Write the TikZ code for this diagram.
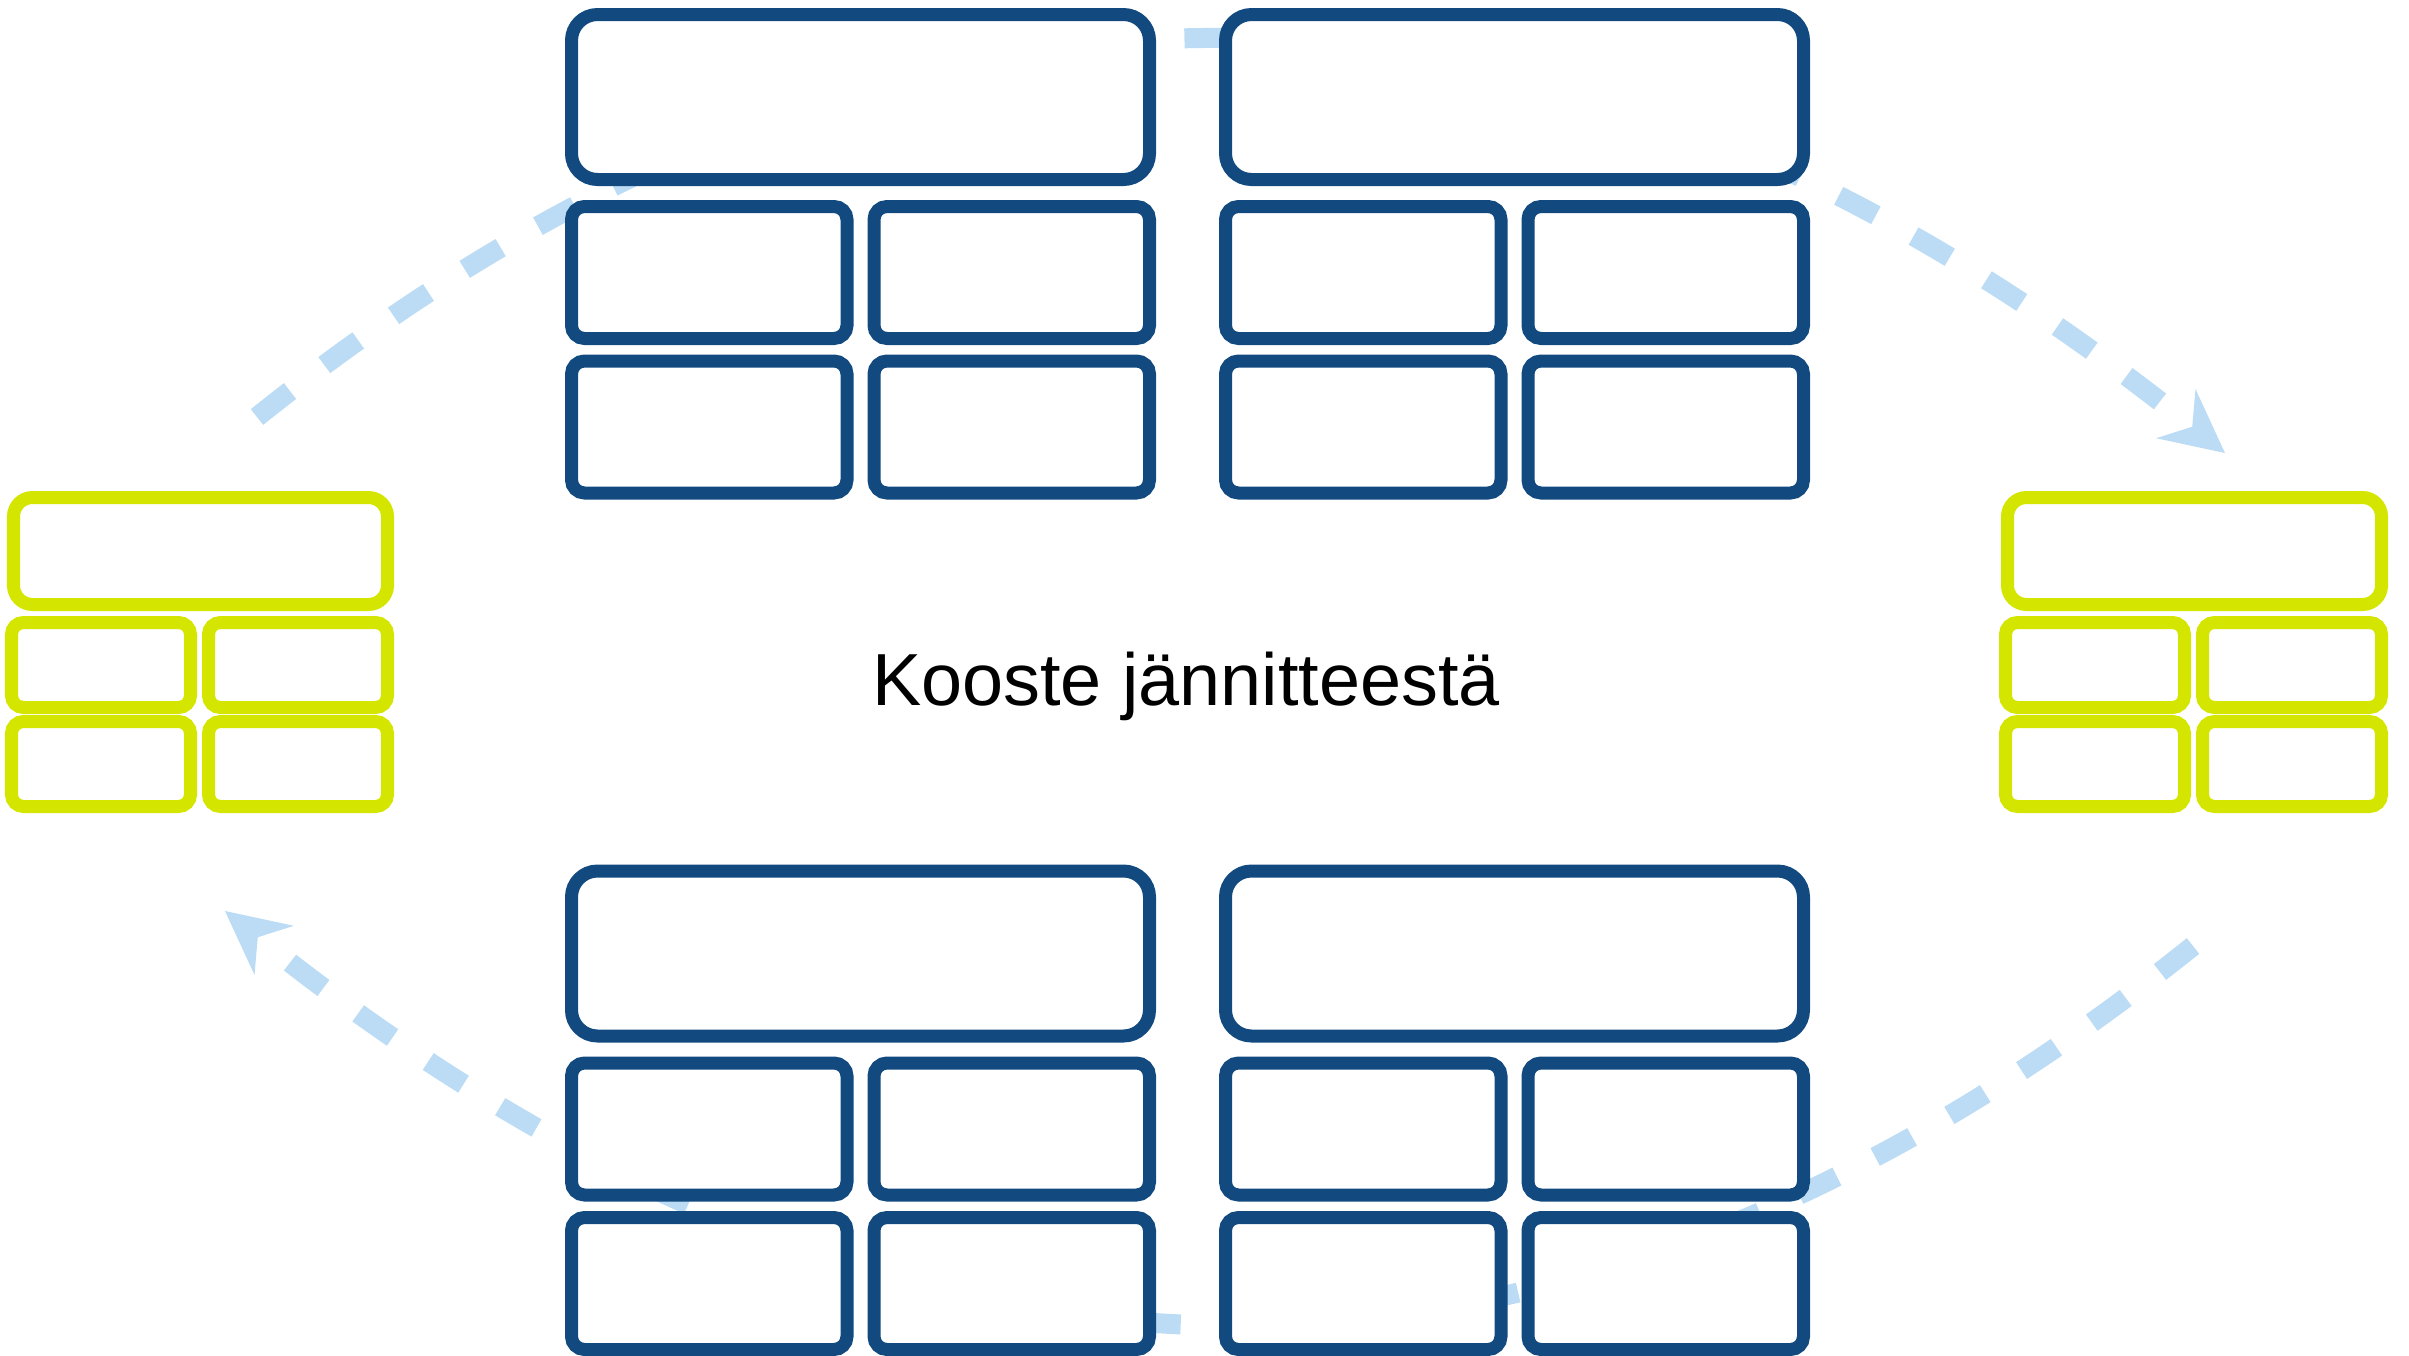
\documentclass[tikz,border=0pt]{standalone}
\usepackage{fontspec}
\setmainfont{Liberation Sans}
\usepackage{tikz}
\usetikzlibrary{arrows.meta,positioning}
\definecolor{navyBlue}{RGB}{18,74,128}
\definecolor{limeGreen}{RGB}{212,230,0}
\definecolor{skyBlue}{RGB}{187,220,244}

\tikzset{
  panel/.style={draw=navyBlue, line width=0.13cm, fill=white,
    inner sep=0pt, outer sep=0pt},
  bigpanel/.style={panel, rounded corners=0.26cm,
    minimum width=5.78cm, minimum height=1.65cm},
  smallpanel/.style={panel, rounded corners=0.13cm,
    minimum width=2.755cm, minimum height=1.32cm},
  tile/.style={draw=limeGreen, line width=0.13cm, fill=white,
    inner sep=0pt, outer sep=0pt},
  bigtile/.style={tile, rounded corners=0.19cm,
    minimum width=3.74cm, minimum height=1.07cm},
  smalltile/.style={tile, rounded corners=0.12cm,
    minimum width=1.79cm, minimum height=0.85cm},
  flow/.style={draw=skyBlue, line width=0.2cm,
    dash pattern=on 0.42cm off 0.43cm,
    -{Stealth[length=0.63cm, width=0.63cm, inset=0.21cm, line width=0pt]}}
}

\begin{document}
\begin{tikzpicture}[x=1cm, y=-1cm]
  \useasboundingbox (0,0) rectangle (24.09,13.56);
  % Cycle arrows (drawn first, they run behind the panels)
  \coordinate (topstart) at (2.57,4.17);
  \coordinate (topend)   at (22.25,4.53);
  \coordinate (botstart) at (21.93,9.46);
  \coordinate (botend)   at (2.25,9.11);
  \draw[flow] (topstart) .. controls (8.98,-0.96) and (15.54,-0.84) .. (topend);
  \draw[flow] (botstart) .. controls (15.52,14.59) and (8.96,14.48) .. (botend);
  % Blue panel groups
  \foreach \g/\dx/\dy in {tl/0/0, tr/6.54/0, bl/0/8.565, br/6.54/8.565} {
    \node[bigpanel]   (\g-big) at (8.605+\dx, 0.97+\dy) {};
    \node[smallpanel] (\g-a)   at (7.0925+\dx, 2.725+\dy) {};
    \node[smallpanel] (\g-b)   at (10.1175+\dx, 2.725+\dy) {};
    \node[smallpanel] (\g-c)   at (7.0925+\dx, 4.27+\dy) {};
    \node[smallpanel] (\g-d)   at (10.1175+\dx, 4.27+\dy) {};
  }
  % Green tile groups
  \foreach \g/\dx in {lt/0, rt/19.94} {
    \node[bigtile]   (\g-big) at (2.005+\dx, 5.51) {};
    \node[smalltile] (\g-a)   at (1.01+\dx, 6.65) {};
    \node[smalltile] (\g-b)   at (2.98+\dx, 6.65) {};
    \node[smalltile] (\g-c)   at (1.01+\dx, 7.64) {};
    \node[smalltile] (\g-d)   at (2.98+\dx, 7.64) {};
  }
  % Title
  \node[anchor=base, font=\fontsize{21pt}{25pt}\selectfont] (title)
    at (11.86,7.05) {Kooste jännitteestä};
\end{tikzpicture}
\end{document}
